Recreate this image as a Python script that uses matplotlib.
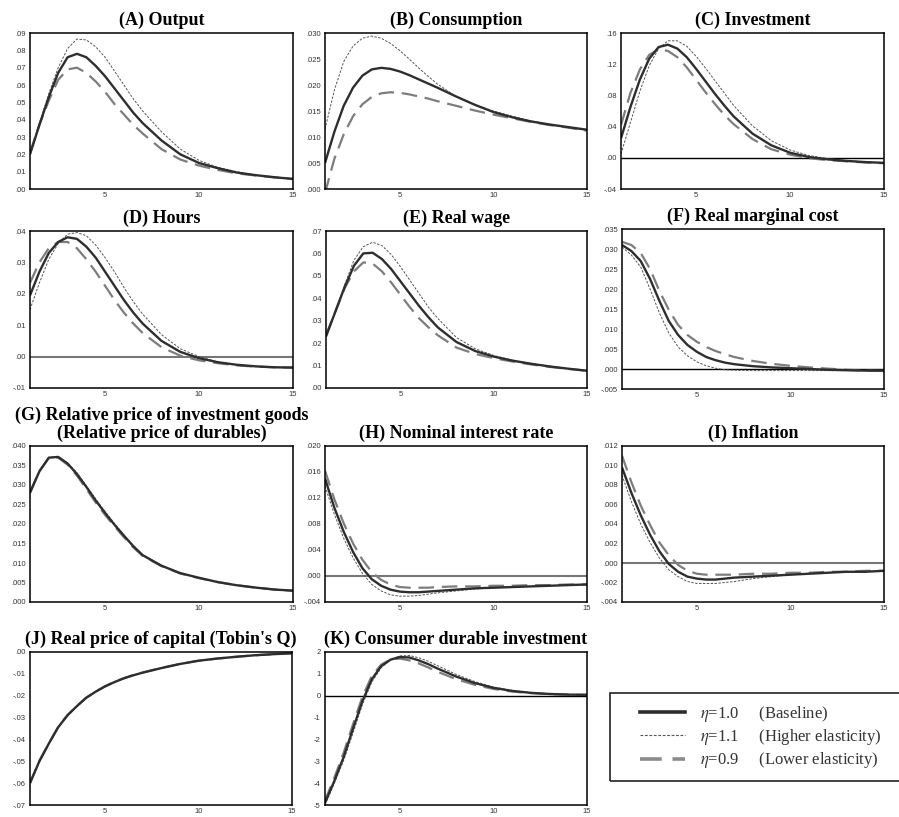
import numpy as np
import matplotlib
matplotlib.use("Agg")
import matplotlib.pyplot as plt
from matplotlib.ticker import FuncFormatter
from matplotlib.lines import Line2D
from matplotlib.patches import Rectangle

plt.rcParams["mathtext.fontset"] = "stix"

quarters = [1, 1.5, 2, 2.5, 3, 3.5, 4, 4.5, 5, 5.5, 6, 6.5, 7, 8, 9, 10, 11, 12, 13, 14, 15]

# (A) Output
output_base = [.020, .037, .053, .067, .076, .078, .076, .071, .065, .058, .051, .044, .038, .028, .020, .015, .012, .0095, .008, .0068, .0058]
output_high = [.020, .038, .055, .070, .081, .0865, .086, .082, .076, .068, .060, .052, .045, .033, .023, .0165, .0125, .010, .008, .0068, .0058]
output_low = [.021, .037, .051, .063, .069, .070, .067, .062, .056, .049, .043, .037, .032, .023, .017, .0135, .011, .009, .0078, .0067, .0058]

# (B) Consumption
cons_base = [.005, .011, .016, .0195, .0218, .0230, .0233, .0231, .0226, .0219, .0211, .0203, .0195, .0178, .0162, .0148, .0138, .0130, .0124, .0119, .0114]
cons_high = [.0115, .019, .0245, .0275, .0290, .0294, .0290, .0280, .0266, .0250, .0233, .0217, .0202, .0178, .0162, .0150, .0140, .0131, .0124, .0118, .0113]
cons_low = [-.0008, .0058, .0105, .0140, .0163, .0177, .0184, .0186, .0185, .0182, .0178, .0174, .0169, .0160, .0151, .0143, .0136, .0129, .0123, .0118, .0112]

# (C) Investment
inv_base = [.025, .065, .100, .127, .142, .145, .140, .129, .114, .098, .082, .067, .053, .031, .016, .0065, .001, -.002, -.004, -.0055, -.0065]
inv_high = [.005, .045, .085, .118, .140, .150, .150, .143, .130, .115, .099, .083, .067, .041, .022, .010, .003, -.001, -.0035, -.0055, -.0065]
inv_low = [.042, .083, .113, .132, .139, .137, .129, .116, .100, .084, .069, .055, .043, .024, .011, .004, -.0005, -.003, -.0045, -.006, -.007]

# (D) Hours
hours_base = [.0195, .027, .033, .0365, .038, .0375, .035, .0315, .027, .0225, .018, .014, .0105, .005, .0015, -.0005, -.0018, -.0026, -.0031, -.0034, -.0035]
hours_high = [.015, .0235, .031, .036, .039, .0395, .0385, .0355, .0315, .027, .022, .0175, .0135, .007, .0025, .0, -.0017, -.0026, -.0031, -.0034, -.0035]
hours_low = [.0235, .030, .0345, .0365, .0365, .0345, .031, .027, .0225, .018, .014, .0105, .0075, .003, .0003, -.0012, -.0021, -.0028, -.0032, -.0034, -.0035]

# (E) Real wage
wage_base = [.023, .034, .045, .0545, .060, .0603, .0575, .053, .0475, .042, .0365, .0315, .027, .0205, .0165, .014, .0122, .0108, .0096, .0086, .0077]
wage_high = [.023, .034, .046, .057, .063, .065, .0635, .0595, .054, .048, .042, .036, .031, .0225, .0175, .0145, .0124, .0109, .0097, .0086, .0077]
wage_low = [.0235, .034, .0445, .052, .056, .0555, .052, .047, .0415, .036, .031, .027, .0235, .018, .0152, .0133, .0118, .0105, .0094, .0085, .0077]

# (F) Real marginal cost
rmc_base = [.031, .0295, .027, .0225, .017, .012, .0085, .006, .0043, .003, .0022, .0016, .0012, .0007, .0004, .0002, .0, -.0002, -.0003, -.0004, -.0004]
rmc_high = [.0305, .0285, .0255, .020, .014, .009, .0055, .0033, .0018, .0008, .0002, -.0002, -.0003, -.0004, -.0004, -.0004, -.0004, -.0004, -.0004, -.0004, -.0004]
rmc_low = [.0318, .031, .029, .025, .0195, .0148, .011, .0085, .0068, .0055, .0045, .0037, .003, .002, .0013, .0008, .0004, .0001, -.0002, -.0004, -.0005]

# (G) Relative price of investment goods
relp_base = [.028, .0335, .037, .0372, .0355, .0328, .0295, .026, .0228, .0198, .0170, .0143, .0120, .0093, .0074, .0062, .0051, .0043, .0037, .0032, .0029]
relp_high = [.028, .0335, .0371, .0373, .0357, .0331, .0298, .0264, .0232, .0201, .0172, .0145, .0121, .0094, .0074, .0062, .0051, .0043, .0037, .0032, .0029]
relp_low = [.0282, .0336, .0369, .0370, .0352, .0324, .0290, .0255, .0223, .0194, .0166, .0140, .0118, .0092, .0073, .0061, .0051, .0043, .0037, .0032, .0029]

# (H) Nominal interest rate
rate_base = [.015, .0105, .0068, .0037, .0012, -.0005, -.0015, -.0021, -.0024, -.0025, -.0025, -.0024, -.0023, -.0021, -.0019, -.0018, -.0017, -.0016, -.0015, -.0014, -.0013]
rate_high = [.0138, .0095, .0058, .0028, .0004, -.0013, -.0023, -.0029, -.0031, -.0031, -.0030, -.0028, -.0026, -.0023, -.0020, -.0018, -.0017, -.0016, -.0015, -.0014, -.0013]
rate_low = [.0162, .0118, .0081, .0050, .0025, .0006, -.0006, -.0013, -.0017, -.0018, -.0018, -.0018, -.0017, -.0016, -.0016, -.0015, -.0015, -.0014, -.0014, -.0013, -.0013]

# (I) Inflation
infl_base = [.0098, .0072, .0049, .0029, .0012, -.0001, -.0009, -.0014, -.0016, -.0017, -.0017, -.0016, -.0015, -.0014, -.0013, -.0012, -.0011, -.0010, -.0009, -.0009, -.0008]
infl_high = [.0090, .0063, .0040, .0021, .0005, -.0007, -.0014, -.0019, -.0021, -.0021, -.0021, -.0020, -.0019, -.0016, -.0014, -.0012, -.0011, -.0010, -.0009, -.0009, -.0008]
infl_low = [.0110, .0083, .0059, .0039, .0021, .0008, -.0002, -.0008, -.0011, -.0012, -.0012, -.0012, -.0012, -.0011, -.0011, -.0010, -.0010, -.0009, -.0009, -.0008, -.0008]

# (J) Real price of capital (Tobin's Q)
tobq_base = [-.060, -.050, -.042, -.0345, -.0290, -.0248, -.0210, -.0182, -.0158, -.0138, -.0121, -.0107, -.0095, -.0074, -.0055, -.0040, -.0030, -.0022, -.0015, -.0010, -.0006]
tobq_high = [-.0602, -.0502, -.0421, -.0346, -.0291, -.0249, -.0211, -.0183, -.0159, -.0139, -.0122, -.0108, -.0095, -.0074, -.0055, -.0040, -.0030, -.0022, -.0015, -.0010, -.0006]
tobq_low = [-.0598, -.0498, -.0419, -.0344, -.0289, -.0247, -.0209, -.0181, -.0157, -.0137, -.0120, -.0106, -.0094, -.0073, -.0055, -.0040, -.0030, -.0022, -.0015, -.0010, -.0006]

# (K) Consumer durable investment
dur_base = [-4.9, -3.9, -2.8, -1.5, -0.25, 0.75, 1.35, 1.65, 1.77, 1.75, 1.62, 1.45, 1.25, 0.88, 0.58, 0.36, 0.22, 0.13, 0.08, 0.05, 0.04]
dur_high = [-5.0, -4.0, -2.95, -1.7, -0.4, 0.62, 1.28, 1.65, 1.82, 1.84, 1.74, 1.58, 1.38, 0.98, 0.65, 0.40, 0.24, 0.14, 0.08, 0.05, 0.04]
dur_low = [-4.8, -3.75, -2.6, -1.3, -0.05, 0.9, 1.42, 1.66, 1.70, 1.62, 1.48, 1.30, 1.10, 0.76, 0.50, 0.31, 0.19, 0.12, 0.07, 0.05, 0.04]

legend_labels = [r"$\eta$=1.0     (Baseline)",
                 r"$\eta$=1.1     (Higher elasticity)",
                 r"$\eta$=0.9     (Lower elasticity)"]

W, H = 899, 817
fig = plt.figure(figsize=(W / 100, H / 100), dpi=100)

style_base = dict(color="#2e2e2e", lw=1.7, solid_capstyle="butt")
style_high = dict(color="#555555", lw=0.7, dashes=(2.5, 1.5))
style_low = dict(color="#7d7d7d", lw=1.6, dashes=(7, 3.5))


def lead_fmt(dec):
    def f(v, pos):
        if abs(v) < 1e-12:
            v = 0.0
        s = f"{v:.{dec}f}"
        if dec > 0:
            s = s.replace("0.", ".", 1)
        return s
    return FuncFormatter(f)


# (title, base, high, low, ylim, ystep, decimals, zero line colour, position px)
panels = [
    ("(A) Output", output_base, output_high, output_low, (0, .09), .01, 2, None, (30, 33, 293, 189)),
    ("(B) Consumption", cons_base, cons_high, cons_low, (0, .03), .005, 3, None, (325, 33, 587, 189)),
    ("(C) Investment", inv_base, inv_high, inv_low, (-.04, .16), .04, 2, "black", (621, 33, 884, 189)),
    ("(D) Hours", hours_base, hours_high, hours_low, (-.01, .04), .01, 2, "#777777", (30, 231, 293, 388)),
    ("(E) Real wage", wage_base, wage_high, wage_low, (0, .07), .01, 2, None, (326, 231, 587, 388)),
    ("(F) Real marginal cost", rmc_base, rmc_high, rmc_low, (-.005, .035), .005, 3, "black", (622, 229, 884, 389)),
    ("(G) Relative price of investment goods\n(Relative price of durables)", relp_base, relp_high, relp_low,
     (0, .04), .005, 3, None, (30, 446, 293, 602)),
    ("(H) Nominal interest rate", rate_base, rate_high, rate_low, (-.004, .02), .004, 3, "#777777", (325, 446, 587, 602)),
    ("(I) Inflation", infl_base, infl_high, infl_low, (-.004, .012), .002, 3, "#777777", (622, 446, 884, 602)),
    ("(J) Real price of capital (Tobin's Q)", tobq_base, tobq_high, tobq_low, (-.07, 0), .01, 2, None, (30, 652, 292, 805)),
    ("(K) Consumer durable investment", dur_base, dur_high, dur_low, (-5, 2), 1, 0, "black", (325, 652, 587, 805)),
]

for title, base, high, low, ylim, ystep, dec, zcol, (x0, y0, x1, y1) in panels:
    ax = fig.add_axes([x0 / W, 1 - y1 / H, (x1 - x0) / W, (y1 - y0) / H])
    if zcol is not None:
        ax.axhline(0, color=zcol, lw=1.0 if zcol == "black" else 1.5, zorder=1)
    ax.plot(quarters, low, **style_low)
    ax.plot(quarters, high, **style_high)
    ax.plot(quarters, base, **style_base)
    ax.set_xlim(1, 15)
    ax.set_ylim(*ylim)
    ax.set_xticks([5, 10, 15])
    ax.set_yticks(np.arange(ylim[0], ylim[1] + ystep / 2, ystep))
    ax.yaxis.set_major_formatter(lead_fmt(dec))
    ax.tick_params(length=0, labelsize=5.5, pad=3)
    ax.tick_params(axis="x", pad=2)
    for lab in ax.get_xticklabels() + ax.get_yticklabels():
        lab.set_fontfamily("Liberation Sans")
        lab.set_color("#333333")
    for sp in ax.spines.values():
        sp.set_linewidth(1.1)
    ax.set_title(title, family="Liberation Serif", fontweight="bold", fontsize=13,
                 pad=6, linespacing=1.0)

# legend box, partly running off the right edge as in the source figure
fig.patches.append(Rectangle((610 / W, 1 - 781 / H), 300 / W, 88 / H, transform=fig.transFigure,
                             fill=False, ec="#222222", lw=1.2))
leg_handles = [Line2D([], [], color="#2e2e2e", lw=2.6),
               Line2D([], [], color="#555555", lw=0.8, dashes=(2.5, 1.5)),
               Line2D([], [], color="#8a8a8a", lw=2.6, dashes=(6, 3))]
leg = fig.legend(leg_handles, legend_labels, loc="center left",
                 bbox_to_anchor=(640 / W, 1 - 737 / H), frameon=False,
                 prop=dict(family="Liberation Serif", size=12),
                 handlelength=2.7, handletextpad=0.9, labelspacing=0.2,
                 borderpad=0, borderaxespad=0)
for t in leg.get_texts():
    t.set_color("#333333")

fig.savefig("out.png", dpi=100)
